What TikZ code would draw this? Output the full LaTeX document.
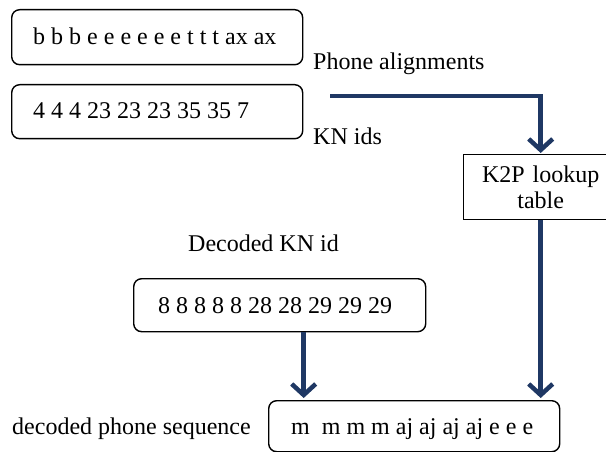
\documentclass[tikz,border=0pt]{standalone}
\usepackage{fontspec}
\setmainfont{Liberation Serif}
\usetikzlibrary{arrows.meta}
\definecolor{flownavy}{RGB}{31,56,100}
\begin{document}
\begin{tikzpicture}[x=1pt,y=-1pt,
  every node/.style={font=\fontsize{24}{26}\selectfont},
  seqbox/.style={draw=black, line width=1.4pt, rounded corners=8pt,
    anchor=north west, inner sep=0pt},
  tablebox/.style={draw=black, line width=1.4pt, anchor=north west,
    align=center, inner sep=0pt},
  caption/.style={anchor=base west, inner sep=0pt},
  flow/.style={draw=flownavy, line width=4.5pt,
    -{Straight Barb[length=11pt,width=24pt]}}]
  \useasboundingbox (0,0) rectangle (606,452);
  \clip (0,0) rectangle (606,452);

  % sequence boxes
  \node[seqbox, minimum width=291pt, minimum height=55pt] (align) at (11,9) {};
  \node[seqbox, minimum width=291pt, minimum height=54pt] (knids) at (11,84) {};
  \node[seqbox, minimum width=292pt, minimum height=53pt] (decoded) at (133,278) {};
  \node[seqbox, minimum width=291pt, minimum height=51pt] (phones) at (268,400) {};

  % sequence contents
  \node[caption] (aligntext) at (33,45) {b b b e e e e e e t t t ax ax};
  \node[caption] (idstext) at (33,119) {4 4 4 23 23 23 35 35 7};
  \node[caption] (dectext) at (158,313) {8 8 8 8 8 28 28 29 29 29};
  \node[caption] (phonetext) at (291,434) {m\ \ m m m aj aj aj aj e e e};

  % lookup table (runs off the right edge)
  \node[tablebox, text width=154pt, minimum height=65pt]
    (lookup) at (463,154) {K2P lookup\\table};

  % captions
  \node[caption] (capalign) at (313,70) {Phone alignments};
  \node[caption] (capids) at (313,145) {KN ids};
  \node[caption] (capdec) at (188,251) {Decoded KN id};
  \node[caption] (capout) at (12,434) {decoded phone sequence};

  % connectors
  \coordinate (kstart) at (330,96);
  \coordinate (decout) at ([xshift=24pt]decoded.south);
  \draw[flow, shorten >=1pt] (kstart) -| (lookup.north);
  \draw[flow, shorten >=2pt] (lookup.south) -- (lookup.south |- phones.north);
  \draw[flow, shorten >=2pt] (decout) -- (decout |- phones.north);
\end{tikzpicture}
\end{document}
